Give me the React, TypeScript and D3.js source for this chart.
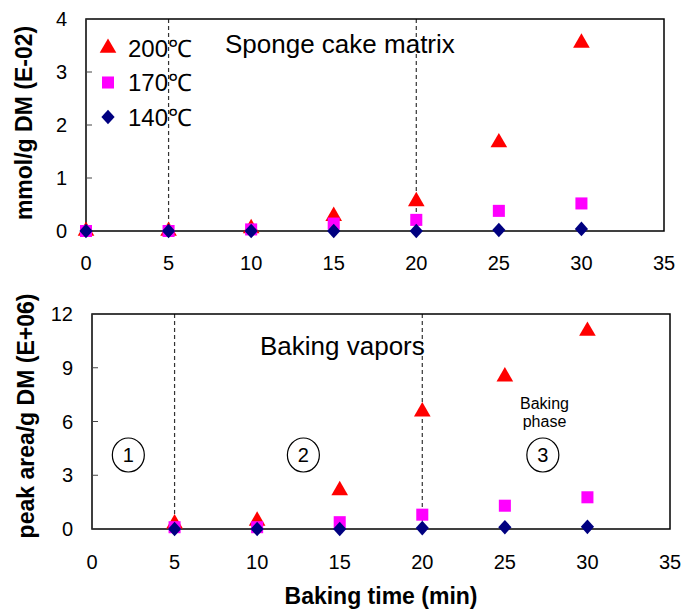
import React, { useEffect, useRef } from "react";
import * as d3 from "d3";

const times = [0, 5, 10, 15, 20, 25, 30];

// Sponge cake matrix, mmol/g DM (E-02)
const matrix200 = [0, 0, 0.05, 0.28, 0.56, 1.67, 3.55];
const matrix170 = [0, 0, 0.03, 0.14, 0.21, 0.38, 0.52];
const matrix140 = [0, 0, 0, 0, 0, 0.02, 0.04];

// Baking vapors, peak area/g DM (E+06)  (no value at t = 0)
const vapor200 = [null, 0.3, 0.45, 2.15, 6.55, 8.5, 11.05];
const vapor170 = [null, 0.1, 0.1, 0.38, 0.8, 1.3, 1.77];
const vapor140 = [null, 0, 0, 0, 0.05, 0.1, 0.12];

const xTicks = [0, 5, 10, 15, 20, 25, 30, 35];
const matrixTicks = [0, 1, 2, 3, 4];
const vaporTicks = [0, 3, 6, 9, 12];
const phaseBounds = [5, 20];
const legendLabels = ["200℃", "170℃", "140℃"];
const phaseLabels = [
  { t: 2.2, label: "1" },
  { t: 12.8, label: "2" },
  { t: 27.3, label: "3" },
];

const FONT = "'Liberation Sans', Arial, sans-serif";
const colors = ["#ff0000", "#ff00ff", "#000080"];

// Excel-like diamond: a bit taller than wide
const excelDiamond = {
  draw(ctx: any, size: number) {
    const w = Math.sqrt(size) / 2;
    const h = w * 1.1;
    ctx.moveTo(0, -h);
    ctx.lineTo(w, 0);
    ctx.lineTo(0, h);
    ctx.lineTo(-w, 0);
    ctx.closePath();
  },
};
const shapes: any[] = [d3.symbolTriangle, d3.symbolSquare, excelDiamond];
const sizes = [120, 145, 175];

export default function App() {
  const ref = useRef<SVGSVGElement | null>(null);

  useEffect(() => {
    if (!ref.current) return;
    const svg = d3.select(ref.current);
    svg.selectAll("*").remove();

    const drawPanel = (
      box: { x0: number; x1: number; y0: number; y1: number },
      yMax: number,
      yTicks: number[],
      series: (number | null)[][],
      labelY: number
    ) => {
      const x = d3.scaleLinear().domain([0, 35]).range([box.x0, box.x1]);
      const y = d3.scaleLinear().domain([0, yMax]).range([box.y1, box.y0]);
      const g = svg.append("g");

      // dashed phase boundaries
      phaseBounds.forEach((t) => {
        g.append("line")
          .attr("x1", x(t))
          .attr("x2", x(t))
          .attr("y1", box.y0)
          .attr("y2", box.y1)
          .attr("stroke", "#333")
          .attr("stroke-width", 1.2)
          .attr("stroke-dasharray", "4,3");
      });

      // frame
      g.append("rect")
        .attr("x", box.x0)
        .attr("y", box.y0)
        .attr("width", box.x1 - box.x0)
        .attr("height", box.y1 - box.y0)
        .attr("fill", "none")
        .attr("stroke", "#000")
        .attr("stroke-width", 1.5);

      // y ticks (inward)
      yTicks.forEach((v) => {
        g.append("line")
          .attr("x1", box.x0)
          .attr("x2", box.x0 + 6)
          .attr("y1", y(v))
          .attr("y2", y(v))
          .attr("stroke", "#444");
        g.append("text")
          .attr("x", box.x0 - 19)
          .attr("y", y(v))
          .attr("dy", "0.36em")
          .attr("text-anchor", "end")
          .style("font-family", FONT)
          .style("font-size", "20px")
          .text(v);
      });

      xTicks.forEach((v) => {
        g.append("text")
          .attr("x", x(v))
          .attr("y", labelY)
          .attr("dy", "0.36em")
          .attr("text-anchor", "middle")
          .style("font-family", FONT)
          .style("font-size", "20px")
          .text(v);
      });

      series.forEach((vals, si) => {
        const sym = d3.symbol().type(shapes[si]).size(sizes[si]);
        vals.forEach((v, i) => {
          if (v === null) return;
          g.append("path")
            .attr("d", sym()!)
            .attr("transform", `translate(${x(times[i])},${y(v)})`)
            .attr("fill", colors[si]);
        });
      });

      return { x, y };
    };

    // Top panel
    drawPanel(
      { x0: 86, x1: 664, y0: 19, y1: 231 },
      4,
      matrixTicks,
      [matrix200, matrix170, matrix140],
      263
    );

    // legend
    legendLabels.forEach((lab, i) => {
      const cy = 48 + i * 34.5;
      const sym = d3.symbol().type(shapes[i]).size(sizes[i]);
      svg
        .append("path")
        .attr("d", sym()!)
        .attr("transform", `translate(108,${cy})`)
        .attr("fill", colors[i]);
      svg
        .append("text")
        .attr("x", 128)
        .attr("y", cy)
        .attr("dy", "0.36em")
        .style("font-family", FONT)
        .style("font-size", "24px")
        .text(lab);
    });

    svg
      .append("text")
      .attr("x", 225)
      .attr("y", 53)
      .style("font-family", FONT)
      .style("font-size", "26px")
      .text("Sponge cake matrix");

    svg
      .append("text")
      .attr("transform", "translate(32,123) rotate(-90)")
      .attr("text-anchor", "middle")
      .style("font-family", FONT)
      .style("font-size", "23px")
      .style("font-weight", "bold")
      .text("mmol/g DM (E-02)");

    // Bottom panel
    const bottom = drawPanel(
      { x0: 92, x1: 670, y0: 314, y1: 529 },
      12,
      vaporTicks,
      [vapor200, vapor170, vapor140],
      562
    );

    svg
      .append("text")
      .attr("x", 260)
      .attr("y", 355)
      .style("font-family", FONT)
      .style("font-size", "26px")
      .text("Baking vapors");

    phaseLabels.forEach((p) => {
      const cx = bottom.x(p.t);
      svg
        .append("ellipse")
        .attr("cx", cx)
        .attr("cy", 455)
        .attr("rx", 16)
        .attr("ry", 17)
        .attr("fill", "none")
        .attr("stroke", "#000")
        .attr("stroke-width", 1.2);
      svg
        .append("text")
        .attr("x", cx)
        .attr("y", 455)
        .attr("dy", "0.36em")
        .attr("text-anchor", "middle")
        .style("font-family", FONT)
        .style("font-size", "20px")
        .text(p.label);
    });

    const phaseX = bottom.x(27.4);
    ["Baking", "phase"].forEach((t, i) => {
      svg
        .append("text")
        .attr("x", phaseX)
        .attr("y", 403 + i * 18)
        .attr("dy", "0.36em")
        .attr("text-anchor", "middle")
        .style("font-family", FONT)
        .style("font-size", "16px")
        .text(t);
    });

    svg
      .append("text")
      .attr("transform", "translate(34,416) rotate(-90)")
      .attr("text-anchor", "middle")
      .style("font-family", FONT)
      .style("font-size", "23px")
      .style("font-weight", "bold")
      .text("peak area/g DM (E+06)");

    svg
      .append("text")
      .attr("x", 381)
      .attr("y", 604)
      .attr("text-anchor", "middle")
      .style("font-family", FONT)
      .style("font-size", "23px")
      .style("font-weight", "bold")
      .text("Baking time (min)");
  }, []);

  return (
    <svg
      ref={ref}
      width={681}
      height={610}
      style={{ position: "absolute", left: 0, top: 0, background: "#fff" }}
    />
  );
}
